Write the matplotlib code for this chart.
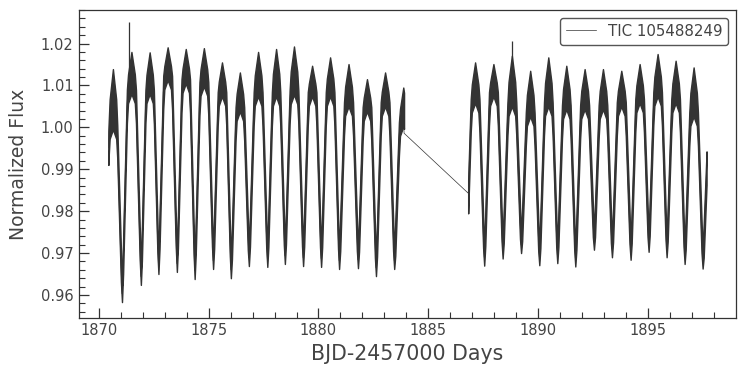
import numpy as np
import matplotlib
matplotlib.use('Agg')
import matplotlib.pyplot as plt

# values (TESS, TIC 105488249)
seg1_span = [1870.43, 1883.90]
seg1_trough_t = [1871.05, 1871.91, 1872.71, 1873.55, 1874.36, 1875.20, 1876.01, 1876.83,
                 1877.67, 1878.47, 1879.30, 1880.12, 1880.94, 1881.80, 1882.62, 1883.45]
seg1_trough_f = [0.9583, 0.9624, 0.9650, 0.9655, 0.9638, 0.9662, 0.9640, 0.9669,
                 0.9667, 0.9674, 0.9669, 0.9667, 0.9662, 0.9664, 0.9645, 0.9662]
# one hump before the first trough, one between each pair, one after the last
seg1_hump_top = [1.0139, 1.0180, 1.0179, 1.0191, 1.0187, 1.0189, 1.0155, 1.0131, 1.0180,
                 1.0187, 1.0193, 1.0147, 1.0167, 1.0151, 1.0115, 1.0131, 1.0095]
seg1_hump_base = [0.9965, 1.0050, 1.0050, 1.0083, 1.0075, 1.0068, 1.0044, 1.0008, 1.0044,
                  1.0044, 1.0048, 1.0044, 1.0044, 1.0020, 1.0008, 1.0020, 0.9972]

seg2_span = [1886.82, 1897.68]
seg2_trough_t = [1887.55, 1888.39, 1889.23, 1890.06, 1890.88, 1891.70, 1892.55,
                 1893.37, 1894.22, 1895.04, 1895.86, 1896.68, 1897.50]
seg2_trough_f = [0.9670, 0.9687, 0.9700, 0.9671, 0.9676, 0.9668, 0.9708,
                 0.9690, 0.9684, 0.9703, 0.9690, 0.9674, 0.9663]
seg2_hump_top = [1.0155, 1.0151, 1.0171, 1.0135, 1.0167, 1.0147, 1.0139,
                 1.0139, 1.0135, 1.0151, 1.0175, 1.0159, 1.0143, 1.0060]
seg2_hump_base = [1.0028, 1.0044, 1.0020, 0.9996, 1.0020, 1.0013, 1.0013,
                  1.0013, 1.0020, 1.0028, 1.0044, 1.0028, 0.9996, 0.9950]

gap_f = [0.9986, 0.9843]
spike_t = [1871.35, 1888.83]
spike_f = [1.0252, 1.0207]
spike_from = [1.0100, 1.0090]


def band(trough_t, trough_f, tops, bases, span):
    per = np.mean(np.diff(trough_t))
    tt = [trough_t[0] - per] + list(trough_t) + [trough_t[-1] + per]
    ff = [trough_f[0]] + list(trough_f) + [trough_f[-1]]
    t, lo, hi = [], [], []
    phases = [0, .06, .13, .20, .26, .32, .38, .44, .50, .56, .62, .68, .74, .80, .87, .94]
    for k in range(len(tops)):
        a, b = ff[k], ff[k + 1]
        B, H = bases[k], tops[k]
        for ph in phases:
            if ph == 0:
                l, h = a, a + 0.004
            elif ph <= 0.26:
                c = a + (B - a) * ph / 0.26
                l, h = c - 0.004, c + 0.004
            elif ph < 0.74:
                u = 1 - abs(ph - 0.5) / 0.24
                l = B + 0.003 * u
                h = B + 0.45 * (H - B) + 0.55 * (H - B) * u
            else:
                c = b + (B - b) * (1 - ph) / 0.26
                l, h = c - 0.004, c + 0.004
            t.append(tt[k] + ph * (tt[k + 1] - tt[k]))
            lo.append(l)
            hi.append(h)
    t, lo, hi = np.array(t), np.array(lo), np.array(hi)
    keep = (t > span[0]) & (t < span[1])
    t2 = np.concatenate([[span[0]], t[keep], [span[1]]])
    lo2 = np.concatenate([[np.interp(span[0], t, lo)], lo[keep], [np.interp(span[1], t, lo)]])
    hi2 = np.concatenate([[np.interp(span[0], t, hi)], hi[keep], [np.interp(span[1], t, hi)]])
    return t2, lo2, hi2


t1, lo1, hi1 = band(seg1_trough_t, seg1_trough_f, seg1_hump_top, seg1_hump_base, seg1_span)
t2, lo2, hi2 = band(seg2_trough_t, seg2_trough_f, seg2_hump_top, seg2_hump_base, seg2_span)
c1 = (lo1 + hi1) / 2
c2 = (lo2 + hi2) / 2
c1[-1] = gap_f[0]
c2[0] = gap_f[1]

col = '#333333'
txt = '#444444'
fig = plt.figure(figsize=(7.45, 3.76), dpi=100)
ax = fig.add_axes([0.1054, 0.1535, 0.8825, 0.8199])

ax.fill_between(t1, lo1, hi1, color=col, lw=1.0)
ax.fill_between(t2, lo2, hi2, color=col, lw=1.0)
ax.plot(np.concatenate([t1, t2]), np.concatenate([c1, c2]), color=col, lw=0.5,
        label='TIC 105488249')
ax.vlines(spike_t, spike_from, spike_f, color=col, lw=0.9)

ax.set_xlim(1869.07, 1899.02)
ax.set_ylim(0.95444, 1.02795)
ax.set_xticks([1870, 1875, 1880, 1885, 1890, 1895])
ax.set_xticks(np.arange(1870, 1899, 1), minor=True)
ax.set_yticks([0.96, 0.97, 0.98, 0.99, 1.00, 1.01, 1.02])
ax.set_yticks(np.arange(0.956, 1.028, 0.002), minor=True)
ax.yaxis.set_major_formatter(matplotlib.ticker.FormatStrFormatter('%.2f'))
ax.tick_params(which='both', direction='in', colors=col, labelcolor=txt, labelsize=10.5)
ax.tick_params(which='major', length=7, width=0.9)
ax.tick_params(which='minor', length=4, width=0.8)
for s in ax.spines.values():
    s.set_color(col)
    s.set_linewidth(0.9)

ax.set_xlabel('BJD-2457000 Days', fontsize=14.8, color=txt)
ax.set_ylabel('Normalized Flux', fontsize=13.5, color=txt, labelpad=9)
leg = ax.legend(loc='upper right', fontsize=10.8, fancybox=True, framealpha=1)
leg.get_frame().set_edgecolor('#555555')
for tx in leg.get_texts():
    tx.set_color(txt)

fig.savefig('out.png', dpi=100)
